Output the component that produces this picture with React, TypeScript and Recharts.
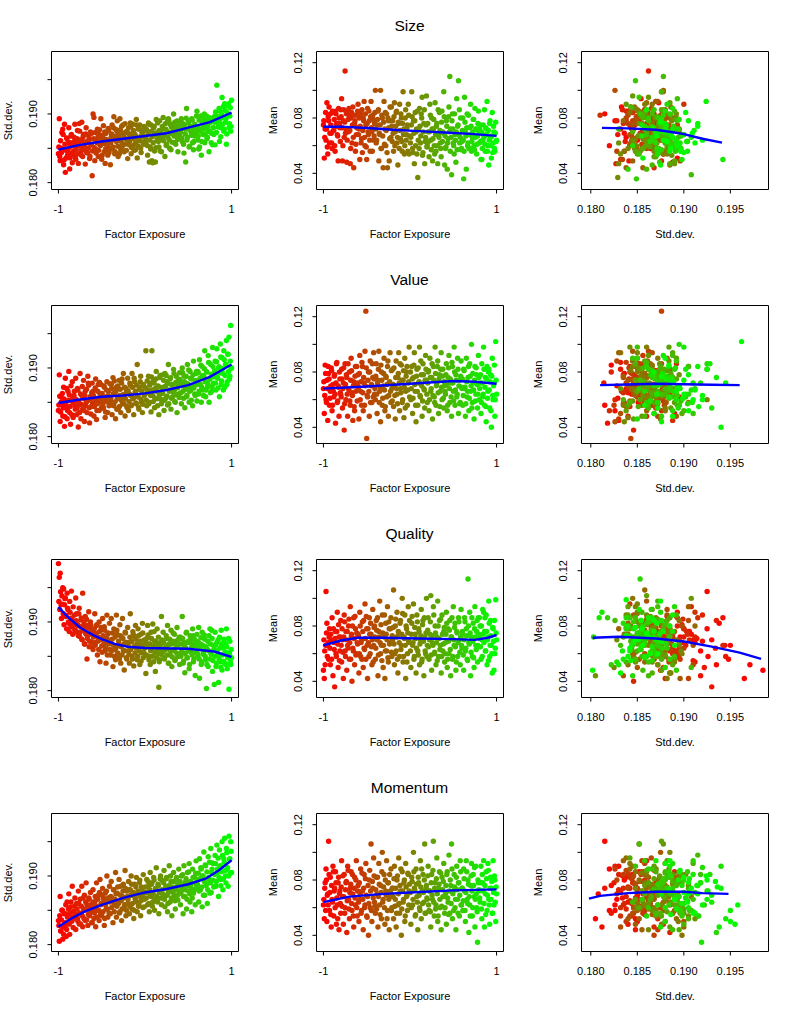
import { ScatterChart, Scatter, XAxis, YAxis, ReferenceArea } from 'recharts';

const exposure = [
  -1,-.99,-.98,-.97,-.96,-.95,-.94,-.93,-.92,-.91,-.9,-.89,-.88,-.87,-.86,-.85,-.84,-.83,-.82,-.81,
  -.8,-.79,-.78,-.77,-.76,-.75,-.74,-.73,-.72,-.71,-.7,-.69,-.68,-.67,-.66,-.65,-.64,-.63,-.62,-.61,
  -.6,-.59,-.58,-.57,-.56,-.55,-.54,-.53,-.52,-.51,-.5,-.49,-.48,-.47,-.46,-.45,-.44,-.43,-.42,-.41,
  -.4,-.39,-.38,-.37,-.36,-.35,-.34,-.33,-.32,-.31,-.3,-.29,-.28,-.27,-.26,-.25,-.24,-.23,-.22,-.21,
  -.2,-.19,-.18,-.17,-.16,-.15,-.14,-.13,-.12,-.11,-.1,-.09,-.08,-.07,-.06,-.05,-.04,-.03,-.02,-.01,
  .01,.02,.03,.04,.05,.06,.07,.08,.09,.1,.11,.12,.13,.14,.15,.16,.17,.18,.19,.2,
  .21,.22,.23,.24,.25,.26,.27,.28,.29,.3,.31,.32,.33,.34,.35,.36,.37,.38,.39,.4,
  .41,.42,.43,.44,.45,.46,.47,.48,.49,.5,.51,.52,.53,.54,.55,.56,.57,.58,.59,.6,
  .61,.62,.63,.64,.65,.66,.67,.68,.69,.7,.71,.72,.73,.74,.75,.76,.77,.78,.79,.8,
  .81,.82,.83,.84,.85,.86,.87,.88,.89,.9,.91,.92,.93,.94,.95,.96,.97,.98,.99,1,
  // denser core of the cloud
  -.995,-.985,-.975,-.965,-.955,-.945,-.935,-.925,-.915,-.905,-.895,-.885,-.875,-.865,-.855,-.845,-.835,-.825,-.815,-.805,
  -.795,-.785,-.775,-.765,-.755,-.745,-.735,-.725,-.715,-.705,-.695,-.685,-.675,-.665,-.655,-.645,-.635,-.625,-.615,-.605,
  -.595,-.585,-.575,-.565,-.555,-.545,-.535,-.525,-.515,-.505,-.495,-.485,-.475,-.465,-.455,-.445,-.435,-.425,-.415,-.405,
  -.395,-.385,-.375,-.365,-.355,-.345,-.335,-.325,-.315,-.305,-.295,-.285,-.275,-.265,-.255,-.245,-.235,-.225,-.215,-.205,
  -.195,-.185,-.175,-.165,-.155,-.145,-.135,-.125,-.115,-.105,-.095,-.085,-.075,-.065,-.055,-.045,-.035,-.025,-.015,-.005,
  .005,.015,.025,.035,.045,.055,.065,.075,.085,.095,.105,.115,.125,.135,.145,.155,.165,.175,.185,.195,
  .205,.215,.225,.235,.245,.255,.265,.275,.285,.295,.305,.315,.325,.335,.345,.355,.365,.375,.385,.395,
  .405,.415,.425,.435,.445,.455,.465,.475,.485,.495,.505,.515,.525,.535,.545,.555,.565,.575,.585,.595,
  .605,.615,.625,.635,.645,.655,.665,.675,.685,.695,.705,.715,.725,.735,.745,.755,.765,.775,.785,.795,
  .805,.815,.825,.835,.845,.855,.865,.875,.885,.895,.905,.915,.925,.935,.945,.955,.965,.975,.985,.995,
];

const sizeStd = [
  .1842,.1893,.1832,.1850,.1873,.1878,.1826,.1885,.1815,.1836,.1864,.1845,.1880,.1820,.1858,.1870,.1829,.1841,.1866,.1885,
  .1834,.1854,.1876,.1828,.1886,.1862,.1846,.1888,.1838,.1870,.1852,.1827,.1880,.1860,.1843,.1868,.1835,.1874,.1856,.1810,
  .1900,.1895,.1832,.1862,.1848,.1878,.1838,.1870,.1855,.1893,.1834,.1865,.1883,.1845,.1828,.1872,.1858,.1840,.1876,.1850,
  .1826,.1866,.1884,.1852,.1896,.1842,.1878,.1860,.1890,.1838,.1870,.1893,.1848,.1882,.1856,.1872,.1845,.1886,.1864,.1875,
  .1835,.1880,.1860,.1887,.1842,.1871,.1885,.1855,.1866,.1848,.1892,.1836,.1878,.1862,.1884,.1850,.1868,.1874,.1858,.1882,
  .1860,.1876,.1840,.1887,.1830,.1852,.1884,.1832,.1829,.1880,.1846,.1830,.1892,.1862,.1874,.1852,.1890,.1866,.1845,.1882,
  .1895,.1868,.1838,.1878,.1856,.1890,.1893,.1862,.1885,.1848,.1873,.1885,.1900,.1858,.1880,.1870,.1890,.1845,.1876,.1866,
  .1873,.1893,.1860,.1886,.1843,.1878,.1830,.1908,.1866,.1890,.1852,.1880,.1874,.1893,.1858,.1848,.1868,.1882,.1876,.1904,
  .1862,.1849,.1852,.1878,.1840,.1885,.1870,.1893,.1858,.1882,.1897,.1866,.1876,.1845,.1888,.1894,.1872,.1855,.1880,.1896,
  .1855,.1898,.1942,.1892,.1886,.1860,.1904,.1880,.1924,.1895,.1875,.1915,.1888,.1856,.1902,.1912,.1880,.1897,.1875,.1920,
  .1852,.1838,.1861,.1844,.1849,.1870,.1833,.1856,.1847,.1865,.1840,.1858,.1851,.1836,.1868,.1843,.1854,.1846,.1860,.1837,
  .1849,.1864,.1842,.1858,.1875,.1853,.1840,.1861,.1867,.1848,.1856,.1871,.1844,.1859,.1850,.1863,.1838,.1855,.1872,.1846,
  .1864,.1851,.1873,.1843,.1858,.1866,.1847,.1877,.1854,.1861,.1840,.1869,.1857,.1874,.1849,.1863,.1853,.1879,.1844,.1860,
  .1858,.1871,.1849,.1880,.1863,.1845,.1868,.1875,.1853,.1866,.1842,.1877,.1860,.1851,.1884,.1867,.1856,.1873,.1847,.1862,
  .1872,.1855,.1869,.1882,.1851,.1864,.1876,.1847,.1870,.1859,.1884,.1866,.1853,.1878,.1861,.1844,.1873,.1868,.1856,.1880,
  .1865,.1878,.1854,.1871,.1885,.1862,.1849,.1875,.1867,.1858,.1882,.1872,.1851,.1869,.1887,.1860,.1876,.1846,.1873,.1864,
  .1879,.1861,.1870,.1886,.1854,.1875,.1866,.1891,.1850,.1872,.1881,.1859,.1877,.1868,.1888,.1856,.1874,.1863,.1883,.1871,
  .1875,.1889,.1865,.1880,.1856,.1884,.1871,.1894,.1862,.1878,.1887,.1853,.1882,.1869,.1891,.1876,.1860,.1885,.1873,.1897,
  .1882,.1868,.1891,.1875,.1897,.1860,.1886,.1878,.1900,.1871,.1889,.1864,.1883,.1895,.1874,.1888,.1858,.1893,.1880,.1870,
  .1888,.1903,.1873,.1896,.1881,.1908,.1892,.1867,.1899,.1885,.1911,.1878,.1905,.1893,.1871,.1900,.1915,.1886,.1909,.1882,
];
const sizeMean = [
  .075,.051,.072,.064,.091,.054,.078,.062,.083,.069,.058,.084,.071,.060,.085,.076,.068,.049,.080,.073,
  .086,.094,.049,.078,.066,.114,.072,.048,.085,.070,.082,.047,.080,.062,.088,.044,.076,.056,.068,.082,
  .090,.072,.050,.083,.065,.055,.080,.092,.060,.075,.050,.087,.068,.078,.056,.092,.070,.082,.064,.076,
  .100,.062,.075,.085,.049,.068,.100,.058,.080,.044,.092,.072,.060,.083,.044,.078,.049,.088,.066,.074,
  .078,.056,.091,.070,.084,.062,.046,.076,.090,.065,.080,.056,.099,.072,.060,.086,.068,.075,.090,.054,
  .066,.099,.058,.078,.047,.084,.070,.054,.037,.072,.087,.062,.083,.095,.055,.076,.047,.066,.096,.060,
  .070,.052,.090,.064,.080,.049,.072,.060,.091,.056,.076,.047,.068,.084,.062,.052,.085,.070,.099,.046,
  .058,.078,.043,.065,.088,.110,.072,.039,.083,.062,.054,.068,.048,.094,.074,.107,.086,.066,.057,.063,
  .080,.036,.095,.070,.043,.083,.062,.058,.073,.090,.056,.066,.079,.060,.087,.072,.054,.067,.085,.062,
  .075,.050,.050,.064,.068,.086,.056,.072,.092,.060,.046,.076,.066,.051,.084,.062,.070,.056,.077,.064,
  .078,.066,.084,.072,.059,.081,.088,.069,.075,.062,.085,.071,.079,.056,.083,.074,.067,.087,.076,.063,
  .081,.073,.060,.086,.077,.069,.083,.064,.079,.087,.071,.058,.084,.075,.066,.082,.078,.061,.073,.085,
  .068,.080,.074,.062,.086,.071,.078,.066,.083,.059,.076,.070,.085,.064,.081,.073,.056,.079,.067,.084,
  .072,.064,.079,.086,.069,.075,.058,.082,.067,.077,.061,.084,.071,.055,.080,.073,.065,.078,.088,.063,
  .069,.081,.060,.074,.085,.066,.077,.058,.071,.083,.063,.076,.068,.054,.080,.064,.073,.056,.082,.067,
  .062,.075,.081,.055,.069,.078,.060,.072,.085,.064,.058,.074,.067,.080,.053,.070,.086,.063,.075,.059,
  .076,.063,.070,.082,.057,.072,.065,.079,.054,.068,.074,.060,.086,.066,.071,.058,.077,.063,.069,.081,
  .067,.059,.074,.062,.081,.070,.056,.066,.078,.072,.060,.083,.064,.070,.057,.075,.068,.062,.080,.058,
  .071,.064,.056,.077,.067,.073,.060,.082,.068,.058,.074,.063,.070,.079,.057,.066,.072,.061,.076,.069,
  .072,.063,.070,.058,.075,.066,.061,.073,.068,.056,.071,.064,.078,.060,.067,.055,.074,.058,.069,.063,
];
const sizeStdLine = [[-1,.1848],[-.75,.1855],[-.5,.186],[-.25,.1864],[0,.1868],[.25,.1872],[.5,.188],[.75,.1888],[1,.1902]];
const sizeMeanLine = [[-1,.0737],[-.8,.0738],[-.5,.0728],[-.2,.0715],[.1,.0705],[.4,.0695],[.7,.0685],[1,.0671]];
const sizeFrontier = [[.1812,.0729],[.184,.0725],[.187,.0715],[.189,.0695],[.19,.0683],[.192,.065],[.1941,.0622]];

const valueStd = [
  .1838,.1890,.1822,.1858,.1848,.1830,.1872,.1815,.1885,.1842,.1826,.1866,.1895,.1835,.1818,.1852,.1880,.1828,.1860,.1845,
  .1885,.1832,.1870,.1814,.1846,.1892,.1826,.1860,.1840,.1882,.1822,.1866,.1850,.1835,.1888,.1875,.1820,.1855,.1844,.1878,
  .1866,.1830,.1856,.1884,.1825,.1848,.1876,.1838,.1862,.1876,.1843,.1850,.1842,.1872,.1828,.1858,.1880,.1835,.1866,.1846,
  .1852,.1876,.1832,.1886,.1845,.1864,.1826,.1872,.1855,.1840,.1882,.1860,.1835,.1878,.1848,.1892,.1858,.1830,.1870,.1844,
  .1885,.1838,.1862,.1875,.1845,.1892,.1855,.1832,.1880,.1866,.1848,.1905,.1858,.1840,.1872,.1888,.1850,.1835,.1876,.1860,
  .1925,.1845,.1868,.1888,.1850,.1878,.1836,.1925,.1860,.1882,.1842,.1870,.1895,.1855,.1874,.1832,.1886,.1862,.1848,.1890,
  .1872,.1838,.1892,.1856,.1880,.1846,.1905,.1866,.1884,.1840,.1876,.1858,.1898,.1868,.1850,.1888,.1835,.1874,.1862,.1893,
  .1880,.1848,.1900,.1866,.1888,.1842,.1876,.1858,.1905,.1872,.1850,.1895,.1868,.1884,.1845,.1910,.1875,.1860,.1892,.1852,
  .1895,.1862,.1912,.1876,.1850,.1902,.1868,.1888,.1925,.1858,.1895,.1872,.1918,.1850,.1884,.1905,.1866,.1930,.1878,.1892,
  .1910,.1868,.1928,.1885,.1900,.1858,.1935,.1876,.1915,.1892,.1925,.1872,.1905,.1940,.1880,.1920,.1945,.1888,.1962,.1900,
  .1846,.1859,.1836,.1851,.1863,.1842,.1855,.1829,.1848,.1870,.1838,.1853,.1861,.1844,.1874,.1832,.1857,.1849,.1866,.1840,
  .1854,.1841,.1868,.1850,.1835,.1862,.1847,.1873,.1856,.1838,.1860,.1845,.1869,.1852,.1878,.1842,.1858,.1833,.1864,.1849,
  .1860,.1844,.1871,.1853,.1838,.1866,.1850,.1879,.1857,.1841,.1863,.1848,.1874,.1855,.1836,.1868,.1851,.1860,.1845,.1877,
  .1856,.1870,.1846,.1862,.1881,.1851,.1866,.1840,.1874,.1858,.1844,.1869,.1853,.1884,.1861,.1848,.1872,.1855,.1865,.1842,
  .1867,.1851,.1878,.1860,.1846,.1872,.1856,.1885,.1864,.1849,.1875,.1858,.1843,.1869,.1880,.1854,.1866,.1847,.1874,.1861,
  .1871,.1853,.1881,.1864,.1848,.1875,.1860,.1887,.1868,.1851,.1878,.1856,.1884,.1866,.1845,.1873,.1861,.1889,.1854,.1870,
  .1863,.1882,.1853,.1873,.1889,.1859,.1877,.1848,.1868,.1886,.1856,.1875,.1865,.1892,.1851,.1879,.1861,.1871,.1884,.1857,
  .1883,.1864,.1874,.1893,.1856,.1880,.1869,.1888,.1860,.1877,.1897,.1866,.1885,.1853,.1875,.1890,.1871,.1862,.1882,.1895,
  .1876,.1893,.1866,.1885,.1904,.1872,.1889,.1860,.1899,.1880,.1868,.1894,.1877,.1908,.1884,.1864,.1891,.1873,.1902,.1887,
  .1896,.1878,.1909,.1887,.1871,.1902,.1893,.1916,.1881,.1899,.1868,.1912,.1889,.1905,.1876,.1920,.1895,.1884,.1910,.1900,
];
const valueMean = [
  .068,.050,.085,.060,.074,.045,.079,.056,.066,.083,.052,.071,.062,.078,.043,.086,.058,.070,.048,.075,
  .064,.082,.054,.072,.038,.086,.060,.076,.048,.068,.080,.056,.090,.065,.045,.073,.052,.084,.070,.059,
  .078,.046,.092,.066,.056,.084,.052,.072,.095,.124,.032,.062,.080,.048,.088,.070,.058,.076,.094,.064,
  .060,.086,.050,.074,.095,.066,.044,.080,.056,.070,.090,.052,.077,.062,.084,.048,.072,.094,.058,.068,
  .082,.055,.070,.046,.088,.064,.076,.094,.052,.068,.085,.058,.074,.047,.090,.066,.080,.056,.072,.098,
  .060,.084,.050,.076,.094,.066,.044,.082,.056,.072,.098,.062,.078,.048,.086,.068,.054,.092,.074,.058,
  .080,.052,.090,.066,.076,.046,.084,.062,.098,.056,.072,.088,.050,.078,.066,.094,.060,.082,.054,.070,
  .064,.086,.052,.076,.092,.058,.072,.048,.084,.066,.098,.056,.078,.062,.090,.050,.074,.058,.088,.068,
  .056,.082,.068,.048,.090,.062,.076,.052,.086,.066,.100,.058,.072,.046,.084,.064,.078,.054,.092,.060,
  .072,.050,.086,.062,.098,.056,.076,.044,.084,.066,.082,.054,.078,.040,.090,.060,.072,.048,.102,.064,
  .073,.063,.079,.058,.068,.084,.075,.061,.070,.081,.056,.066,.077,.064,.072,.087,.059,.069,.080,.065,
  .062,.075,.068,.083,.057,.071,.078,.064,.086,.067,.059,.074,.081,.063,.070,.055,.077,.066,.084,.072,
  .069,.079,.060,.073,.087,.065,.076,.056,.070,.083,.063,.074,.066,.080,.058,.071,.086,.062,.075,.068,
  .077,.064,.072,.082,.058,.069,.085,.074,.061,.079,.067,.055,.076,.071,.088,.063,.073,.066,.081,.059,
  .071,.083,.063,.076,.068,.057,.079,.072,.086,.065,.074,.060,.081,.069,.054,.077,.084,.067,.073,.062,
  .080,.068,.075,.061,.085,.071,.056,.077,.066,.083,.073,.063,.088,.070,.059,.078,.067,.074,.082,.064,
  .072,.081,.060,.076,.068,.086,.063,.074,.058,.079,.070,.084,.065,.075,.055,.082,.069,.077,.061,.073,
  .066,.078,.071,.056,.083,.068,.075,.062,.087,.072,.059,.080,.067,.074,.064,.082,.070,.057,.077,.069,
  .075,.063,.081,.069,.057,.073,.066,.084,.061,.077,.070,.054,.079,.067,.074,.059,.083,.071,.064,.076,
  .068,.078,.058,.072,.064,.082,.069,.055,.075,.061,.080,.067,.073,.052,.077,.063,.070,.085,.060,.074,
];
const valueStdLine = [[-1,.1849],[-.75,.1854],[-.5,.1858],[-.25,.186],[0,.1863],[.25,.1868],[.5,.1875],[.75,.1887],[1,.1905]];
const valueMeanLine = [[-1,.068],[-.5,.0695],[0,.0715],[.5,.0735],[.75,.073],[1,.0715]];
const valueFrontier = [[.181,.0705],[.184,.071],[.187,.0715],[.19,.0712],[.193,.0708],[.196,.0705]];

const qualityStd = [
  .1985,.1965,.1971,.1925,.1938,.1950,.1948,.1925,.1935,.1910,.1942,.1918,.1898,.1930,.1905,.1945,.1893,.1922,.1900,.1888,
  .1935,.1912,.1895,.1880,.1920,.1885,.1903,.1875,.1942,.1893,.1868,.1908,.1882,.1846,.1895,.1915,.1872,.1900,.1888,.1864,
  .1860,.1885,.1912,.1870,.1895,.1852,.1878,.1900,.1842,.1888,.1865,.1905,.1875,.1893,.1858,.1840,.1910,.1882,.1868,.1898,
  .1852,.1905,.1875,.1835,.1890,.1860,.1845,.1910,.1882,.1850,.1866,.1896,.1840,.1878,.1905,.1858,.1830,.1885,.1870,.1846,
  .1892,.1858,.1840,.1912,.1872,.1850,.1886,.1836,.1878,.1895,.1862,.1845,.1890,.1868,.1838,.1882,.1855,.1898,.1848,.1874,
  .1825,.1876,.1895,.1850,.1868,.1838,.1885,.1860,.1897,.1842,.1872,.1828,.1866,.1890,.1854,.1805,.1845,.1870,.1908,.1858,
  .1885,.1848,.1862,.1860,.1876,.1895,.1840,.1868,.1852,.1888,.1835,.1872,.1858,.1882,.1845,.1866,.1892,.1850,.1875,.1838,
  .1878,.1855,.1908,.1840,.1870,.1826,.1862,.1885,.1848,.1872,.1832,.1880,.1856,.1868,.1890,.1842,.1875,.1822,.1865,.1882,
  .1850,.1892,.1818,.1868,.1838,.1885,.1853,.1858,.1875,.1845,.1803,.1860,.1835,.1880,.1890,.1855,.1888,.1828,.1866,.1809,
  .1885,.1835,.1870,.1852,.1812,.1878,.1842,.1888,.1830,.1862,.1875,.1840,.1868,.1890,.1832,.1855,.1802,.1872,.1838,.1848,
  .1930,.1918,.1944,.1905,.1926,.1912,.1896,.1934,.1908,.1890,.1920,.1900,.1886,.1914,.1893,.1906,.1882,.1898,.1910,.1888,
  .1902,.1885,.1896,.1912,.1879,.1893,.1906,.1874,.1888,.1899,.1868,.1884,.1904,.1876,.1891,.1864,.1882,.1895,.1871,.1887,
  .1878,.1890,.1866,.1883,.1896,.1872,.1860,.1886,.1874,.1892,.1856,.1880,.1868,.1888,.1862,.1876,.1852,.1884,.1870,.1860,
  .1874,.1858,.1884,.1866,.1850,.1878,.1862,.1888,.1855,.1872,.1846,.1880,.1864,.1852,.1876,.1868,.1858,.1884,.1848,.1870,
  .1866,.1853,.1878,.1860,.1871,.1846,.1882,.1864,.1855,.1875,.1868,.1850,.1880,.1858,.1872,.1843,.1866,.1884,.1856,.1862,
  .1870,.1852,.1864,.1881,.1845,.1868,.1858,.1876,.1850,.1865,.1886,.1855,.1872,.1848,.1860,.1878,.1842,.1866,.1853,.1874,
  .1856,.1870,.1846,.1863,.1880,.1852,.1866,.1840,.1875,.1858,.1868,.1849,.1884,.1860,.1844,.1872,.1855,.1865,.1850,.1878,
  .1868,.1850,.1860,.1876,.1843,.1865,.1854,.1884,.1848,.1870,.1858,.1838,.1874,.1862,.1852,.1880,.1846,.1866,.1856,.1872,
  .1854,.1870,.1846,.1862,.1877,.1842,.1866,.1856,.1881,.1850,.1864,.1838,.1872,.1858,.1846,.1868,.1853,.1876,.1844,.1860,
  .1850,.1866,.1840,.1858,.1874,.1846,.1862,.1834,.1868,.1852,.1843,.1871,.1856,.1838,.1864,.1848,.1876,.1854,.1842,.1860,
];
const qualityMean = [
  .048,.042,.052,.105,.082,.066,.056,.078,.052,.070,.086,.044,.068,.036,.076,.058,.090,.050,.072,.062,
  .084,.054,.070,.042,.088,.062,.076,.048,.066,.080,.056,.094,.072,.040,.064,.086,.052,.078,.060,.068,
  .074,.046,.090,.058,.070,.083,.050,.064,.096,.056,.078,.042,.068,.086,.060,.074,.052,.092,.066,.080,
  .056,.084,.070,.044,.076,.098,.060,.066,.088,.050,.072,.042,.082,.062,.094,.054,.078,.068,.086,.058,
  .070,.106,.052,.080,.062,.090,.046,.074,.058,.084,.066,.100,.054,.072,.088,.042,.078,.060,.094,.068,
  .050,.082,.066,.096,.058,.074,.046,.088,.062,.078,.052,.070,.092,.056,.084,.044,.072,.060,.100,.066,
  .086,.056,.074,.102,.048,.068,.094,.060,.080,.052,.072,.098,.058,.084,.066,.046,.088,.062,.076,.054,
  .068,.090,.050,.078,.060,.084,.044,.072,.056,.094,.066,.082,.048,.076,.058,.086,.070,.052,.092,.064,
  .074,.048,.086,.062,.078,.056,.114,.068,.090,.044,.072,.058,.082,.050,.094,.066,.076,.054,.086,.086,
  .080,.056,.070,.092,.090,.076,.062,.088,.052,.072,.098,.058,.084,.066,.046,.078,.048,.060,.099,.070,
  .070,.062,.066,.075,.058,.068,.072,.064,.074,.056,.069,.078,.063,.071,.060,.076,.067,.081,.055,.072,
  .066,.078,.061,.072,.083,.058,.070,.076,.064,.085,.068,.056,.074,.080,.062,.071,.087,.059,.075,.067,
  .073,.060,.080,.068,.056,.076,.084,.063,.071,.087,.066,.078,.058,.074,.082,.065,.070,.054,.079,.072,
  .064,.077,.086,.059,.072,.068,.081,.055,.075,.066,.088,.062,.074,.070,.057,.083,.067,.078,.061,.073,
  .079,.067,.060,.085,.072,.056,.076,.068,.082,.063,.074,.089,.058,.071,.066,.080,.054,.075,.069,.084,
  .062,.074,.087,.068,.056,.079,.071,.064,.083,.059,.076,.067,.073,.054,.081,.069,.086,.062,.075,.058,
  .077,.065,.070,.083,.059,.073,.066,.088,.061,.075,.068,.055,.080,.071,.063,.085,.058,.074,.067,.079,
  .060,.074,.082,.056,.069,.077,.063,.072,.086,.058,.070,.079,.065,.054,.075,.068,.083,.061,.072,.066,
  .076,.059,.070,.083,.064,.073,.055,.080,.067,.075,.061,.086,.069,.057,.078,.072,.063,.084,.066,.074,
  .071,.065,.080,.058,.074,.068,.086,.062,.076,.070,.055,.082,.066,.073,.060,.079,.069,.084,.064,.075,
];
const qualityStdLine = [[-1,.1922],[-.9,.1908],[-.75,.1892],[-.6,.1881],[-.5,.1875],[-.35,.1868],[-.2,.1864],[0,.1862],[.5,.1861],[.8,.1857],[.9,.1853],[1,.1849]];
const qualityMeanLine = [[-1,.066],[-.8,.0695],[-.6,.0715],[-.3,.0715],[.1,.071],[.5,.0705],[.75,.07],[.9,.0715],[1,.0735]];
const qualityFrontier = [[.1802,.0715],[.183,.0722],[.187,.071],[.19,.0688],[.193,.0651],[.196,.0607],[.1983,.0563]];

const momentumStd = [
  .1835,.1805,.1870,.1820,.1850,.1808,.1815,.1826,.1845,.1812,.1862,.1830,.1874,.1815,.1855,.1840,.1885,.1825,.1848,.1868,
  .1822,.1860,.1838,.1878,.1830,.1866,.1845,.1885,.1826,.1852,.1872,.1835,.1890,.1858,.1828,.1868,.1842,.1876,.1855,.1832,
  .1880,.1838,.1862,.1826,.1890,.1850,.1872,.1835,.1895,.1858,.1842,.1882,.1868,.1828,.1875,.1852,.1900,.1840,.1865,.1885,
  .1845,.1892,.1868,.1832,.1880,.1858,.1905,.1840,.1875,.1862,.1895,.1848,.1885,.1835,.1870,.1888,.1855,.1908,.1842,.1878,
  .1860,.1892,.1845,.1880,.1900,.1852,.1872,.1838,.1888,.1866,.1898,.1848,.1878,.1858,.1894,.1842,.1884,.1870,.1902,.1855,
  .1876,.1895,.1858,.1885,.1848,.1905,.1870,.1890,.1862,.1898,.1850,.1882,.1912,.1866,.1888,.1845,.1878,.1900,.1858,.1893,
  .1868,.1908,.1855,.1885,.1898,.1848,.1876,.1915,.1862,.1892,.1842,.1880,.1905,.1870,.1852,.1895,.1885,.1865,.1910,.1875,
  .1858,.1900,.1880,.1845,.1915,.1870,.1892,.1852,.1905,.1878,.1918,.1862,.1888,.1848,.1910,.1875,.1898,.1858,.1922,.1882,
  .1895,.1862,.1925,.1880,.1910,.1855,.1900,.1935,.1872,.1915,.1888,.1860,.1928,.1895,.1875,.1940,.1905,.1919,.1918,.1885,
  .1930,.1885,.1945,.1905,.1870,.1938,.1915,.1895,.1950,.1880,.1925,.1955,.1900,.1940,.1910,.1885,.1958,.1925,.1950,.1905,
  .1828,.1842,.1820,.1836,.1850,.1826,.1845,.1832,.1858,.1822,.1840,.1852,.1830,.1846,.1862,.1834,.1848,.1838,.1856,.1844,
  .1840,.1852,.1834,.1860,.1846,.1830,.1856,.1842,.1868,.1838,.1850,.1862,.1836,.1854,.1844,.1866,.1848,.1858,.1832,.1852,
  .1862,.1846,.1870,.1856,.1840,.1866,.1850,.1876,.1844,.1860,.1872,.1848,.1864,.1838,.1858,.1878,.1852,.1868,.1846,.1862,
  .1870,.1854,.1862,.1880,.1848,.1866,.1874,.1856,.1884,.1860,.1846,.1872,.1864,.1852,.1878,.1868,.1858,.1882,.1850,.1870,
  .1866,.1880,.1856,.1872,.1888,.1860,.1876,.1850,.1868,.1884,.1862,.1874,.1856,.1890,.1870,.1864,.1880,.1854,.1876,.1866,
  .1884,.1868,.1876,.1892,.1860,.1880,.1872,.1888,.1856,.1874,.1894,.1866,.1882,.1870,.1862,.1886,.1876,.1896,.1868,.1880,
  .1874,.1890,.1866,.1882,.1896,.1872,.1860,.1886,.1878,.1900,.1868,.1884,.1876,.1892,.1864,.1880,.1898,.1872,.1888,.1878,
  .1892,.1876,.1884,.1902,.1870,.1888,.1880,.1896,.1866,.1886,.1906,.1874,.1892,.1882,.1868,.1898,.1878,.1890,.1904,.1884,
  .1888,.1904,.1878,.1896,.1912,.1884,.1900,.1872,.1892,.1916,.1886,.1906,.1880,.1898,.1920,.1890,.1876,.1910,.1894,.1884,
  .1902,.1918,.1892,.1910,.1926,.1898,.1914,.1886,.1906,.1930,.1896,.1920,.1908,.1890,.1934,.1912,.1900,.1924,.1904,.1936,
];
const momentumMean = [
  .062,.052,.078,.088,.050,.070,.108,.058,.082,.046,.066,.090,.054,.074,.086,.048,.062,.078,.044,.072,
  .056,.094,.068,.048,.084,.060,.078,.042,.090,.066,.052,.074,.086,.058,.070,.046,.082,.062,.094,.054,
  .076,.050,.066,.088,.058,.072,.044,.084,.062,.092,.054,.068,.040,.080,.060,.106,.050,.074,.096,.064,
  .056,.082,.070,.046,.092,.062,.076,.052,.100,.066,.084,.048,.072,.094,.058,.078,.044,.068,.088,.060,
  .074,.052,.090,.066,.046,.080,.062,.096,.056,.072,.040,.086,.064,.078,.050,.092,.068,.058,.084,.072,
  .048,.082,.062,.100,.074,.054,.088,.068,.044,.078,.060,.094,.052,.072,.084,.064,.106,.056,.076,.066,
  .090,.058,.072,.046,.084,.066,.108,.054,.078,.062,.096,.050,.074,.086,.060,.044,.082,.068,.092,.056,
  .070,.048,.086,.064,.098,.056,.076,.106,.052,.072,.084,.060,.044,.090,.066,.078,.054,.094,.062,.074,
  .058,.088,.072,.050,.094,.066,.080,.042,.062,.076,.092,.054,.084,.068,.046,.090,.060,.035,.078,.072,
  .064,.090,.052,.078,.094,.046,.070,.086,.058,.092,.066,.048,.082,.074,.056,.094,.062,.080,.050,.070,
  .066,.074,.058,.080,.069,.062,.084,.071,.055,.076,.064,.086,.072,.060,.078,.067,.052,.082,.070,.063,
  .075,.061,.083,.068,.056,.073,.079,.065,.087,.059,.071,.077,.063,.084,.054,.074,.067,.080,.060,.072,
  .064,.078,.070,.056,.085,.066,.074,.060,.081,.069,.053,.076,.063,.087,.072,.058,.079,.067,.083,.061,
  .073,.059,.082,.068,.077,.055,.071,.086,.064,.075,.060,.080,.069,.052,.078,.066,.084,.072,.058,.074,
  .068,.081,.061,.074,.056,.083,.070,.063,.076,.088,.059,.072,.066,.080,.054,.075,.069,.085,.062,.077,
  .071,.060,.079,.066,.086,.073,.055,.077,.064,.082,.069,.058,.075,.088,.063,.071,.080,.056,.074,.067,
  .083,.062,.072,.057,.078,.069,.087,.064,.074,.059,.081,.070,.054,.077,.066,.085,.061,.073,.079,.068,
  .060,.076,.084,.067,.055,.072,.080,.063,.088,.070,.058,.075,.066,.082,.073,.056,.078,.069,.086,.062,
  .074,.065,.081,.058,.071,.086,.063,.077,.068,.054,.083,.072,.060,.076,.089,.066,.070,.057,.080,.073,
  .067,.078,.059,.084,.072,.063,.076,.055,.081,.069,.087,.062,.074,.066,.079,.056,.071,.083,.064,.075,
];
const momentumStdLine = [[-1,.1826],[-.85,.1838],[-.7,.1848],[-.5,.1858],[-.25,.1868],[0,.1876],[.25,.1881],[.5,.1888],[.7,.1896],[.85,.1908],[1,.1923]];
const momentumMeanLine = [[-1,.064],[-.7,.068],[-.3,.07],[0,.071],[.5,.0725],[1,.0732]];
const momentumFrontier = [[.1798,.0665],[.181,.0685],[.184,.0705],[.187,.0715],[.19,.0715],[.192,.0705],[.1948,.07]];

const factorNames = ['Size', 'Value', 'Quality', 'Momentum'];
const stdByFactor = [sizeStd, valueStd, qualityStd, momentumStd];
const meanByFactor = [sizeMean, valueMean, qualityMean, momentumMean];
const stdLines = [sizeStdLine, valueStdLine, qualityStdLine, momentumStdLine];
const meanLines = [sizeMeanLine, valueMeanLine, qualityMeanLine, momentumMeanLine];
const frontiers = [sizeFrontier, valueFrontier, qualityFrontier, momentumFrontier];

const exposureTicks = [-1, 1];
const stdTicks = [0.18, 0.185, 0.19, 0.195];
const meanTicks = [0.04, 0.06, 0.08, 0.1, 0.12];
const stdDomain = [0.179, 0.1991];
const meanDomain = [0.0283, 0.1281];
const exposureDomain = [-1.08, 1.08];

const FONT = '"Liberation Sans", Arial, sans-serif';

const dotColor = (e: number) => {
  const t = (e + 1) / 2;
  return `rgb(${Math.round(255 * (1 - t))},${Math.round(255 * t)},0)`;
};

const Dot = ({ cx, cy, payload }: any) => <circle cx={cx} cy={cy} r={2.7} fill={dotColor(payload.e)} />;
const NoDot = () => <g />;

const yTick = (hidden: number[], digits: number) => ({ y, payload }: any) => {
  if (hidden.includes(payload.value)) return <g />;
  return (
    <text x={33} y={y} transform={`rotate(-90 33 ${y})`} textAnchor="middle" dominantBaseline="central" fontSize={11} fontFamily={FONT} fill="#000">
      {payload.value.toFixed(digits)}
    </text>
  );
};

function Panel({ xs, ys, line, xDomain, xTicks, xLabel, xFormat, yDomain, yTicks, yLabel, yHidden, yDigits }: any) {
  // plotted from red to green, the greens end up on top
  const points = xs
    .map((x: number, i: number) => ({ x, y: ys[i], e: exposure[i] }))
    .sort((a: any, b: any) => a.e - b.e);
  const lineData = line.map(([x, y]: number[]) => ({ x, y }));
  return (
    <ScatterChart width={265} height={254} margin={{ top: 51.5, right: 26.5, bottom: 0, left: 0 }}>
      <XAxis
        type="number"
        dataKey="x"
        domain={xDomain}
        ticks={xTicks}
        interval={0}
        axisLine={false}
        tickLine={{ stroke: '#000' }}
        tickSize={4}
        tickMargin={12}
        tickFormatter={xFormat}
        tick={{ fontSize: 11, fontFamily: FONT, fill: '#000' }}
        height={64.5}
        label={{ value: xLabel, position: 'insideBottom', offset: 16, fontSize: 11, fontFamily: FONT, fill: '#000' }}
      />
      <YAxis
        type="number"
        dataKey="y"
        domain={yDomain}
        ticks={yTicks}
        interval={0}
        axisLine={false}
        tickLine={{ stroke: '#000' }}
        tickSize={4}
        tick={yTick(yHidden, yDigits)}
        width={51.5}
        label={{ value: yLabel, angle: -90, position: 'insideLeft', offset: 8, dy: 0, fontSize: 11, fontFamily: FONT, fill: '#000', style: { textAnchor: 'middle' } }}
      />
      <ReferenceArea x1={xDomain[0]} x2={xDomain[1]} y1={yDomain[0]} y2={yDomain[1]} fill="none" fillOpacity={0} stroke="#000" strokeOpacity={1} />
      <Scatter data={points} shape={Dot} isAnimationActive={false} />
      <Scatter data={lineData} shape={NoDot} line={{ stroke: '#0000ff', strokeWidth: 2.4 }} isAnimationActive={false} />
    </ScatterChart>
  );
}

const place = (col: number, row: number): any => ({ position: 'absolute', left: col * 265, top: row * 254 });

export default function App() {
  return (
    <div style={{ position: 'absolute', left: 0, top: 0, width: 795, height: 1016, background: '#fff', overflow: 'hidden' }}>
      {factorNames.map((name, row) => (
        <div key={name}>
          <div style={{ position: 'absolute', left: 265, width: 289, top: 17 + row * 254, textAlign: 'center', fontFamily: FONT, fontSize: 15.5, lineHeight: '18px' }}>
            {name}
          </div>
          <div style={place(0, row)}>
            <Panel
              xs={exposure}
              ys={stdByFactor[row]}
              line={stdLines[row]}
              xDomain={exposureDomain}
              xTicks={exposureTicks}
              xLabel="Factor Exposure"
              xFormat={(v: number) => String(v)}
              yDomain={stdDomain}
              yTicks={stdTicks}
              yLabel="Std.dev."
              yHidden={[0.185, 0.195]}
              yDigits={3}
            />
          </div>
          <div style={place(1, row)}>
            <Panel
              xs={exposure}
              ys={meanByFactor[row]}
              line={meanLines[row]}
              xDomain={exposureDomain}
              xTicks={exposureTicks}
              xLabel="Factor Exposure"
              xFormat={(v: number) => String(v)}
              yDomain={meanDomain}
              yTicks={meanTicks}
              yLabel="Mean"
              yHidden={[0.06, 0.1]}
              yDigits={2}
            />
          </div>
          <div style={place(2, row)}>
            <Panel
              xs={stdByFactor[row]}
              ys={meanByFactor[row]}
              line={frontiers[row]}
              xDomain={stdDomain}
              xTicks={stdTicks}
              xLabel="Std.dev."
              xFormat={(v: number) => v.toFixed(3)}
              yDomain={meanDomain}
              yTicks={meanTicks}
              yLabel="Mean"
              yHidden={[0.06, 0.1]}
              yDigits={2}
            />
          </div>
        </div>
      ))}
    </div>
  );
}
